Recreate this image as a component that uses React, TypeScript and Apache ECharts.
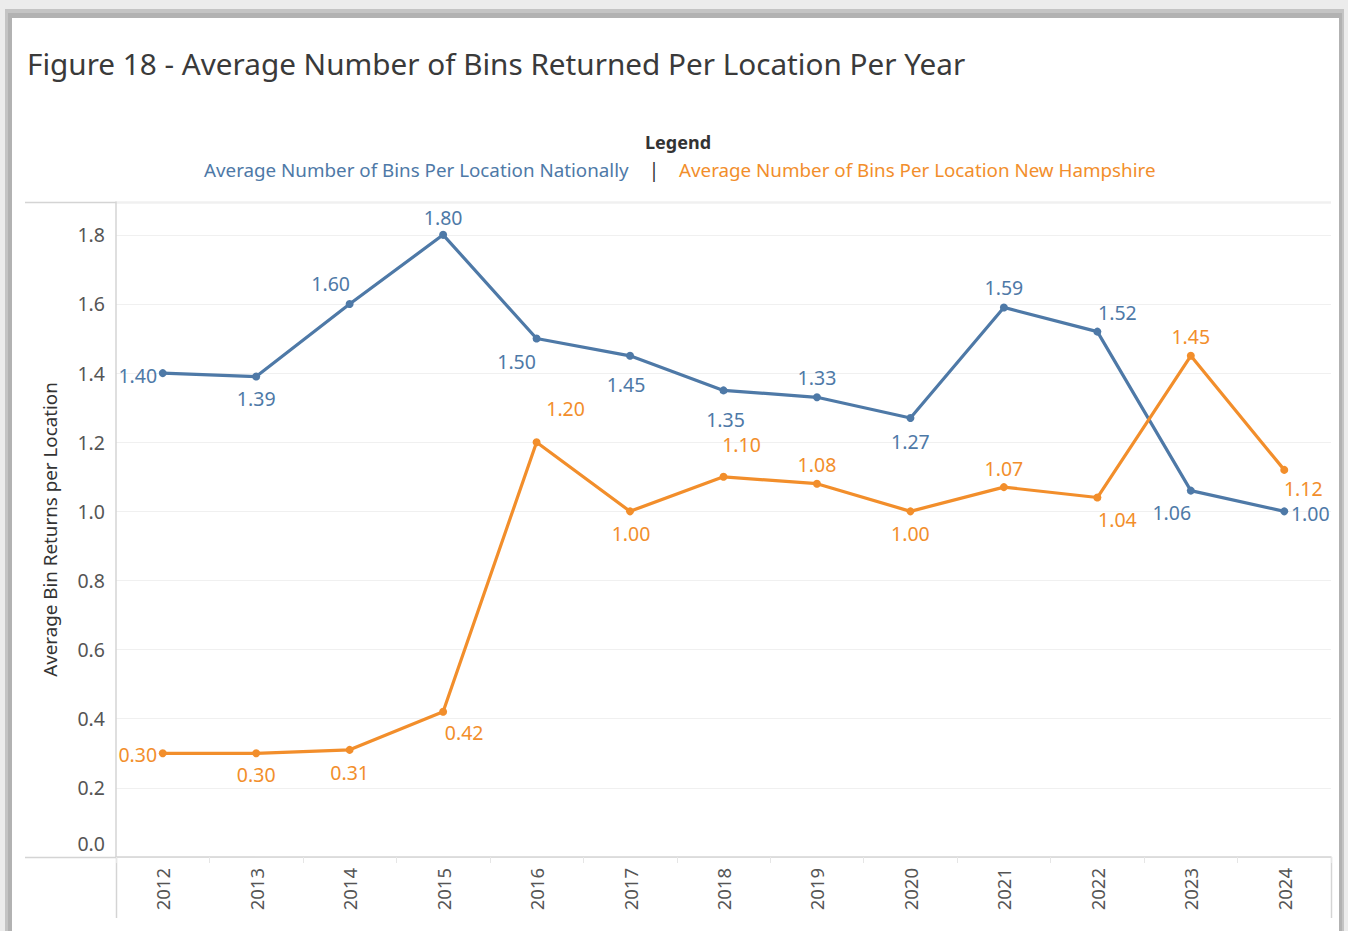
import React, { useEffect, useRef } from 'react';
import * as echarts from 'echarts';

const years = ['2012', '2013', '2014', '2015', '2016', '2017', '2018', '2019', '2020', '2021', '2022', '2023', '2024'];
const national = [1.4, 1.39, 1.6, 1.8, 1.5, 1.45, 1.35, 1.33, 1.27, 1.59, 1.52, 1.06, 1.0];
const newHampshire = [0.3, 0.3, 0.31, 0.42, 1.2, 1.0, 1.1, 1.08, 1.0, 1.07, 1.04, 1.45, 1.12];

const titleText = 'Figure 18 - Average Number of Bins Returned Per Location Per Year';
const legendTitle = 'Legend';
const nationalName = 'Average Number of Bins Per Location Nationally';
const nhName = 'Average Number of Bins Per Location New Hampshire';
const yAxisName = 'Average Bin Returns per Location';

// label placement offsets (style) relative to point centre
const natOffsets = [[-25, 2], [0, 22], [-19, -20], [0, -17], [-20, 23], [-4, 29], [2, 29], [0, -20], [0, 23], [0, -20], [20, -19], [-19, 22], [26, 2.5]];
const nhOffsets = [[-25, 1], [0, 21], [0, 23], [21, 21], [29, -34], [1, 22], [18, -32], [0, -19], [0, 22], [0, -19], [20, 22], [0, -19], [19, 18.5]];

const BLUE = '#4e79a7';
const ORANGE = '#f28e2b';
const FONT = '"Noto Sans", sans-serif';

function buildData(values: number[], offsets: number[][], color: string) {
  return values.map((v, i) => ({
    value: v,
    label: {
      show: true,
      position: 'inside',
      offset: offsets[i],
      formatter: (p: any) => Number(p.value).toFixed(2),
      color,
      fontSize: 19.5,
      lineHeight: 20,
      fontFamily: FONT,
    },
  }));
}

export default function App() {
  const ref = useRef<HTMLDivElement>(null);
  useEffect(() => {
    if (!ref.current) return;
    const chart = echarts.init(ref.current, null, { renderer: 'svg' });
    const lineColor = '#d4d4d4';
    chart.setOption({
      animation: false,
      backgroundColor: '#ececec',
      graphic: [
        { type: 'rect', z: -10, shape: { x: 5, y: 9, width: 1339, height: 930 }, style: { fill: '#c4c4c4' } },
        { type: 'rect', z: -9, shape: { x: 8, y: 13, width: 1334, height: 930 }, style: { fill: '#b2b2b2' } },
        { type: 'rect', z: -8, shape: { x: 12, y: 18, width: 1327, height: 920 }, style: { fill: '#ffffff' } },
        { type: 'text', x: 27, y: 63, style: { text: titleText, fontSize: 29.7, fontFamily: FONT, fill: '#3a3a3a', textVerticalAlign: 'middle' } },
        { type: 'text', x: 678, y: 142, style: { text: legendTitle, fontSize: 18, fontWeight: 'bold', fontFamily: FONT, fill: '#333333', textAlign: 'center', textVerticalAlign: 'middle' } },
        { type: 'text', x: 204, y: 170, style: { text: nationalName, fontSize: 18.8, fontFamily: FONT, fill: BLUE, textVerticalAlign: 'middle' } },
        { type: 'text', x: 654, y: 170, style: { text: '|', fontSize: 19, fontFamily: FONT, fill: '#333333', textAlign: 'center', textVerticalAlign: 'middle' } },
        { type: 'text', x: 679, y: 170, style: { text: nhName, fontSize: 18.8, fontFamily: FONT, fill: ORANGE, textVerticalAlign: 'middle' } },
        { type: 'line', shape: { x1: 25, y1: 202.5, x2: 1331, y2: 202.5 }, style: { stroke: lineColor, lineWidth: 1.5 } },
        { type: 'line', shape: { x1: 25, y1: 857.5, x2: 116, y2: 857.5 }, style: { stroke: lineColor, lineWidth: 1.5 } },
        { type: 'line', shape: { x1: 116.5, y1: 857, x2: 116.5, y2: 918 }, style: { stroke: lineColor, lineWidth: 1.5 } },
        { type: 'line', shape: { x1: 1331.5, y1: 857, x2: 1331.5, y2: 918 }, style: { stroke: lineColor, lineWidth: 1.5 } },
      ],
      grid: { left: 116, top: 202, right: 17, bottom: 74, containLabel: false },
      xAxis: {
        type: 'category',
        data: years,
        boundaryGap: true,
        axisLine: { show: true, lineStyle: { color: lineColor, width: 1.5 } },
        axisTick: { show: true, length: 6, lineStyle: { color: '#e6e6e6' } },
        axisLabel: { rotate: 90, margin: 11, fontSize: 18.5, color: '#555555', fontFamily: FONT },
        splitLine: { show: false },
      },
      yAxis: {
        type: 'value',
        min: 0,
        max: 1.895,
        interval: 0.2,
        name: yAxisName,
        nameLocation: 'middle',
        nameRotate: 90,
        nameGap: 57,
        nameTextStyle: { fontSize: 18.8, color: '#333333', fontFamily: FONT },
        axisLine: { show: true, lineStyle: { color: lineColor, width: 1.5 } },
        axisTick: { show: false },
        axisLabel: {
          showMaxLabel: false,
          margin: 11,
          fontSize: 19.5,
          color: '#555555',
          fontFamily: FONT,
          formatter: (v: number) => (v === 0 ? '{z|0.0}' : v.toFixed(1)),
          rich: { z: { fontSize: 19.5, color: '#555555', fontFamily: FONT, padding: [0, 0, 28, 0] } },
        },
        splitLine: { show: true, lineStyle: { color: '#f0f0f0', width: 1 } },
      },
      series: [
        {
          name: nationalName,
          type: 'line',
          data: buildData(national, natOffsets, BLUE),
          symbol: 'circle',
          symbolSize: 8,
          lineStyle: { color: BLUE, width: 3.2 },
          itemStyle: { color: BLUE },
          emphasis: { disabled: true },
          z: 3,
        },
        {
          name: nhName,
          type: 'line',
          data: buildData(newHampshire, nhOffsets, ORANGE),
          symbol: 'circle',
          symbolSize: 8,
          lineStyle: { color: ORANGE, width: 3.2 },
          itemStyle: { color: ORANGE },
          emphasis: { disabled: true },
          z: 4,
        },
      ],
    });
    return () => chart.dispose();
  }, []);
  return <div ref={ref} style={{ position: 'fixed', left: 0, top: 0, width: 1348, height: 931 }} />;
}
